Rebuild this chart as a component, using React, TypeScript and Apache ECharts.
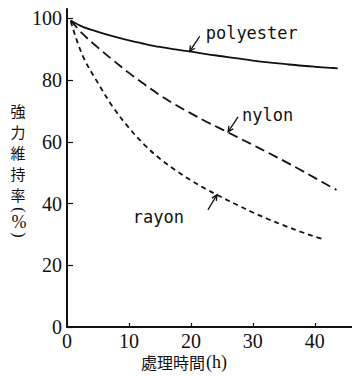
import React, { useEffect, useRef } from "react";
import * as echarts from "echarts";

const xTicks = [0, 10, 20, 30, 40];
const yTicks = [0, 20, 40, 60, 80, 100];

const polyester: number[][] = [[0.6, 99.3], [2.5, 97.3], [5, 95.6], [7.5, 94.1], [10, 92.8], [12.5, 91.7], [15, 90.7], [17.5, 89.9], [20, 89.2], [22.5, 88.4], [25, 87.7], [27.5, 87], [30, 86.3], [32.5, 85.7], [35, 85.2], [37.5, 84.7], [40, 84.3], [42.5, 83.95], [43.7, 83.8]];
const nylon: number[][] = [[0.6, 99.3], [2.5, 95], [5, 90.5], [7.5, 86.3], [10, 82.3], [12.5, 78.6], [15, 75.1], [17.5, 72], [20, 69.2], [22.5, 66.5], [25, 64], [27.5, 61.5], [30, 59], [32.5, 56.4], [35, 53.8], [37.5, 51.1], [40, 48.3], [42.5, 45.5], [43.5, 44.4]];
const rayon: number[][] = [[0.6, 99], [2.5, 88], [5, 79], [7.5, 71], [10, 64.5], [12.5, 59], [15, 54.5], [17.5, 50.8], [20, 47.5], [22.5, 44.6], [25, 42], [27.5, 39.5], [30, 37.1], [32.5, 34.9], [35, 32.9], [37.5, 31], [40, 29.3], [41.3, 28.5]];

// annotation anchors (arrow tip on the curve, in data units)
const labelNames = ["polyester", "nylon", "rayon"];
const labelTips: number[][] = [[19.8, 89.3], [26, 63.2], [24.2, 42.8]];

const SERIF = "serif";
const MONO = "monospace";
const CJK = "Noto Sans CJK JP";

function arrow(tip: number[], tail: number[]) {
  const dx = tip[0] - tail[0];
  const dy = tip[1] - tail[1];
  const len = Math.sqrt(dx * dx + dy * dy);
  const ux = dx / len, uy = dy / len;
  const hl = 6, ang = 0.45;
  const c = Math.cos(ang), s = Math.sin(ang);
  const b1 = [tip[0] - hl * (ux * c - uy * s), tip[1] - hl * (uy * c + ux * s)];
  const b2 = [tip[0] - hl * (ux * c + uy * s), tip[1] - hl * (uy * c - ux * s)];
  return [
    { type: "line", shape: { x1: tail[0], y1: tail[1], x2: tip[0], y2: tip[1] }, style: { stroke: "#111", lineWidth: 1.3 } },
    { type: "polyline", shape: { points: [b1, tip, b2] }, style: { stroke: "#111", lineWidth: 1.3, fill: null } },
  ];
}

export default function App() {
  const ref = useRef<HTMLDivElement>(null);
  useEffect(() => {
    if (!ref.current) return;
    const chart = echarts.init(ref.current, null, { renderer: "svg" });
    const lineBase = { type: "line", smooth: 0.35, symbol: "none", color: "#111" };
    chart.setOption({
      animation: false,
      backgroundColor: "#fff",
      grid: { left: 67, right: 0, top: 9, bottom: 49 },
      xAxis: {
        type: "value", min: 0, max: 46, interval: 10,
        splitLine: { show: false },
        axisLine: { lineStyle: { color: "#111", width: 2 } },
        axisTick: { inside: true, length: 4, customValues: xTicks, lineStyle: { color: "#111", width: 1.2 } },
        axisLabel: { customValues: xTicks, margin: 4, color: "#111", fontFamily: SERIF, fontSize: 20 },
      },
      yAxis: {
        type: "value", min: 0, max: 103, interval: 20,
        splitLine: { show: false },
        axisLine: { show: true, lineStyle: { color: "#111", width: 2 } },
        axisTick: { show: true, inside: true, length: 6, customValues: yTicks, lineStyle: { color: "#111", width: 1.2 } },
        axisLabel: { customValues: yTicks, margin: 5, color: "#111", fontFamily: SERIF, fontSize: 20 },
      },
      series: [
        { ...lineBase, name: "polyester", data: polyester, lineStyle: { color: "#111", width: 1.8, type: "solid" } },
        { ...lineBase, name: "nylon", data: nylon, lineStyle: { color: "#111", width: 1.8, type: [10, 5] } },
        { ...lineBase, name: "rayon", data: rayon, lineStyle: { color: "#111", width: 1.8, type: [5, 4] } },
      ],
    });

    const tips = labelTips.map((p) => chart.convertToPixel({ gridIndex: 0 }, p) as number[]);
    const tails = [
      [tips[0][0] + 10, tips[0][1] - 15],
      [tips[1][0] + 10, tips[1][1] - 15],
      [tips[2][0] - 9, tips[2][1] + 15],
    ];
    const graphics: any[] = [];
    tips.forEach((t, i) => graphics.push(...arrow(t, tails[i])));
    const lbl = (x: number, y: number, text: string, align: string) => ({
      type: "text", x, y,
      style: { text, fontFamily: MONO, fontSize: 17, fill: "#111", align, verticalAlign: "middle" },
    });
    graphics.push(
      lbl(tips[0][0] + 16, tips[0][1] - 18, labelNames[0], "left"),
      lbl(tips[1][0] + 14, tips[1][1] - 17, labelNames[1], "left"),
      lbl(tips[2][0] - 33, tips[2][1] + 22, labelNames[2], "right"),
      { type: "text", x: 141, y: 362, style: { text: "處理時間", fontFamily: CJK, fontSize: 16, fill: "#111", align: "left", verticalAlign: "middle" } },
      { type: "text", x: 206, y: 362, style: { text: "(h)", fontFamily: SERIF, fontSize: 18, fill: "#111", align: "left", verticalAlign: "middle" } },
      { type: "text", x: 18, y: 100, style: { text: "強\n力\n維\n持\n率", fontFamily: CJK, fontSize: 15, lineHeight: 21, fill: "#111", align: "center", verticalAlign: "top" } },
      { type: "text", x: 19, y: 210, rotation: -Math.PI / 2, style: { text: "(", fontFamily: SERIF, fontSize: 16, fill: "#111", align: "center", verticalAlign: "middle" } },
      { type: "text", x: 19, y: 222, style: { text: "%", fontFamily: SERIF, fontSize: 18, fill: "#111", align: "center", verticalAlign: "middle" } },
      { type: "text", x: 19, y: 235, rotation: -Math.PI / 2, style: { text: ")", fontFamily: SERIF, fontSize: 16, fill: "#111", align: "center", verticalAlign: "middle" } },
    );
    chart.setOption({ graphic: graphics });
    return () => chart.dispose();
  }, []);
  return <div ref={ref} style={{ position: "fixed", left: 0, top: 0, width: 352, height: 376 }} />;
}
